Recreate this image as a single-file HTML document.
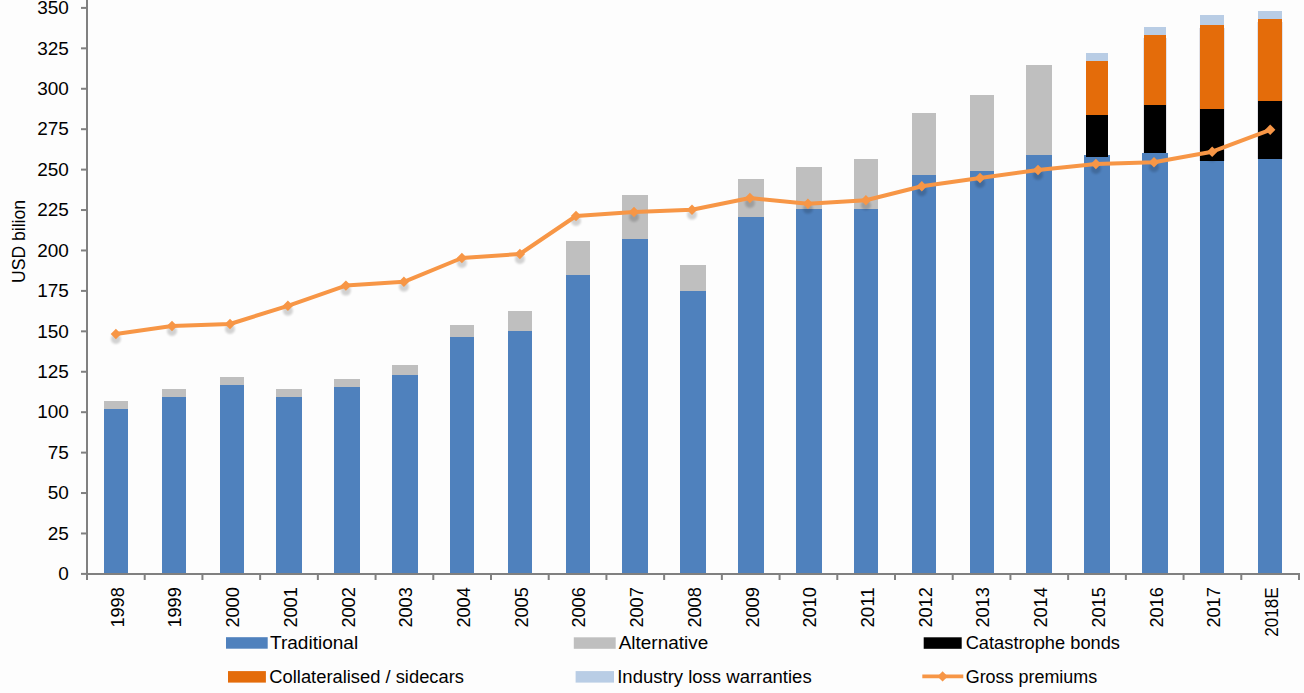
<!DOCTYPE html>
<html><head><meta charset="utf-8"><style>
html,body{margin:0;padding:0;background:#fdfdfd;width:1304px;height:693px;overflow:hidden}
svg{display:block;font-family:"Liberation Sans", sans-serif;fill:#000}
text{fill:#000}
</style></head><body>
<svg width="1304" height="693" viewBox="0 0 1304 693">
<defs><filter id="sh" x="-100%" y="-100%" width="300%" height="300%"><feGaussianBlur stdDeviation="1.2"/></filter></defs>
<rect x="104" y="401" width="24" height="8" fill="#bfbfbf"/>
<rect x="104" y="409" width="24" height="165" fill="#4f81bd"/>
<rect x="162" y="389" width="24" height="8" fill="#bfbfbf"/>
<rect x="162" y="397" width="24" height="177" fill="#4f81bd"/>
<rect x="220" y="377" width="24" height="8" fill="#bfbfbf"/>
<rect x="220" y="385" width="24" height="189" fill="#4f81bd"/>
<rect x="276" y="389" width="26" height="8" fill="#bfbfbf"/>
<rect x="276" y="397" width="26" height="177" fill="#4f81bd"/>
<rect x="334" y="379" width="26" height="8" fill="#bfbfbf"/>
<rect x="334" y="387" width="26" height="187" fill="#4f81bd"/>
<rect x="392" y="365" width="26" height="10" fill="#bfbfbf"/>
<rect x="392" y="375" width="26" height="199" fill="#4f81bd"/>
<rect x="450" y="325" width="24" height="12" fill="#bfbfbf"/>
<rect x="450" y="337" width="24" height="237" fill="#4f81bd"/>
<rect x="508" y="311" width="24" height="20" fill="#bfbfbf"/>
<rect x="508" y="331" width="24" height="243" fill="#4f81bd"/>
<rect x="566" y="241" width="24" height="34" fill="#bfbfbf"/>
<rect x="566" y="275" width="24" height="299" fill="#4f81bd"/>
<rect x="622" y="195" width="26" height="44" fill="#bfbfbf"/>
<rect x="622" y="239" width="26" height="335" fill="#4f81bd"/>
<rect x="680" y="265" width="26" height="26" fill="#bfbfbf"/>
<rect x="680" y="291" width="26" height="283" fill="#4f81bd"/>
<rect x="738" y="179" width="26" height="38" fill="#bfbfbf"/>
<rect x="738" y="217" width="26" height="357" fill="#4f81bd"/>
<rect x="796" y="167" width="26" height="42" fill="#bfbfbf"/>
<rect x="796" y="209" width="26" height="365" fill="#4f81bd"/>
<rect x="854" y="159" width="24" height="50" fill="#bfbfbf"/>
<rect x="854" y="209" width="24" height="365" fill="#4f81bd"/>
<rect x="912" y="113" width="24" height="62" fill="#bfbfbf"/>
<rect x="912" y="175" width="24" height="399" fill="#4f81bd"/>
<rect x="970" y="95" width="24" height="76" fill="#bfbfbf"/>
<rect x="970" y="171" width="24" height="403" fill="#4f81bd"/>
<rect x="1026" y="65" width="26" height="90" fill="#bfbfbf"/>
<rect x="1026" y="155" width="26" height="419" fill="#4f81bd"/>
<rect x="1084" y="155" width="26" height="419" fill="#4f81bd"/>
<rect x="1086" y="115" width="22" height="42" fill="#000"/>
<rect x="1086" y="61" width="22" height="54" fill="#e46c0a"/>
<rect x="1086" y="53" width="22" height="8" fill="#b9cde5"/>
<rect x="1142" y="153" width="26" height="421" fill="#4f81bd"/>
<rect x="1144" y="105" width="22" height="48" fill="#000"/>
<rect x="1144" y="35" width="22" height="70" fill="#e46c0a"/>
<rect x="1144" y="27" width="22" height="8" fill="#b9cde5"/>
<rect x="1143" y="38" width="1" height="115" fill="#e2e2e8"/>
<rect x="1166" y="38" width="1" height="115" fill="#e2e2e8"/>
<rect x="1200" y="161" width="24" height="413" fill="#4f81bd"/>
<rect x="1200" y="109" width="24" height="52" fill="#000"/>
<rect x="1200" y="25" width="24" height="84" fill="#e46c0a"/>
<rect x="1200" y="15" width="24" height="10" fill="#b9cde5"/>
<rect x="1199" y="28" width="1" height="133" fill="#e2e2e8"/>
<rect x="1224" y="28" width="1" height="133" fill="#e2e2e8"/>
<rect x="1258" y="159" width="24" height="415" fill="#4f81bd"/>
<rect x="1258" y="101" width="24" height="58" fill="#000"/>
<rect x="1258" y="19" width="24" height="82" fill="#e46c0a"/>
<rect x="1258" y="11" width="24" height="8" fill="#b9cde5"/>
<rect x="1257" y="22" width="1" height="137" fill="#e2e2e8"/>
<rect x="1282" y="22" width="1" height="137" fill="#e2e2e8"/>
<rect x="86" y="0" width="2" height="575" fill="#808080"/>
<rect x="86" y="573" width="1214" height="2" fill="#808080"/>
<rect x="81" y="572.90" width="6" height="2" fill="#808080"/>
<rect x="81" y="532.47" width="6" height="2" fill="#808080"/>
<rect x="81" y="492.04" width="6" height="2" fill="#808080"/>
<rect x="81" y="451.61" width="6" height="2" fill="#808080"/>
<rect x="81" y="411.19" width="6" height="2" fill="#808080"/>
<rect x="81" y="370.76" width="6" height="2" fill="#808080"/>
<rect x="81" y="330.33" width="6" height="2" fill="#808080"/>
<rect x="81" y="289.90" width="6" height="2" fill="#808080"/>
<rect x="81" y="249.47" width="6" height="2" fill="#808080"/>
<rect x="81" y="209.04" width="6" height="2" fill="#808080"/>
<rect x="81" y="168.61" width="6" height="2" fill="#808080"/>
<rect x="81" y="128.19" width="6" height="2" fill="#808080"/>
<rect x="81" y="87.76" width="6" height="2" fill="#808080"/>
<rect x="81" y="47.33" width="6" height="2" fill="#808080"/>
<rect x="81" y="6.90" width="6" height="2" fill="#808080"/>
<rect x="86.00" y="574" width="2" height="6" fill="#808080"/>
<rect x="143.71" y="574" width="2" height="6" fill="#808080"/>
<rect x="201.43" y="574" width="2" height="6" fill="#808080"/>
<rect x="259.14" y="574" width="2" height="6" fill="#808080"/>
<rect x="316.86" y="574" width="2" height="6" fill="#808080"/>
<rect x="374.57" y="574" width="2" height="6" fill="#808080"/>
<rect x="432.29" y="574" width="2" height="6" fill="#808080"/>
<rect x="490.00" y="574" width="2" height="6" fill="#808080"/>
<rect x="547.71" y="574" width="2" height="6" fill="#808080"/>
<rect x="605.43" y="574" width="2" height="6" fill="#808080"/>
<rect x="663.14" y="574" width="2" height="6" fill="#808080"/>
<rect x="720.86" y="574" width="2" height="6" fill="#808080"/>
<rect x="778.57" y="574" width="2" height="6" fill="#808080"/>
<rect x="836.29" y="574" width="2" height="6" fill="#808080"/>
<rect x="894.00" y="574" width="2" height="6" fill="#808080"/>
<rect x="951.71" y="574" width="2" height="6" fill="#808080"/>
<rect x="1009.43" y="574" width="2" height="6" fill="#808080"/>
<rect x="1067.14" y="574" width="2" height="6" fill="#808080"/>
<rect x="1124.86" y="574" width="2" height="6" fill="#808080"/>
<rect x="1182.57" y="574" width="2" height="6" fill="#808080"/>
<rect x="1240.29" y="574" width="2" height="6" fill="#808080"/>
<rect x="1298.00" y="574" width="2" height="6" fill="#808080"/>
<text transform="translate(68.8,580.20) scale(1.085,1)" font-size="17.5" text-anchor="end">0</text>
<text transform="translate(68.8,539.77) scale(1.085,1)" font-size="17.5" text-anchor="end">25</text>
<text transform="translate(68.8,499.34) scale(1.085,1)" font-size="17.5" text-anchor="end">50</text>
<text transform="translate(68.8,458.91) scale(1.085,1)" font-size="17.5" text-anchor="end">75</text>
<text transform="translate(68.8,418.49) scale(1.085,1)" font-size="17.5" text-anchor="end">100</text>
<text transform="translate(68.8,378.06) scale(1.085,1)" font-size="17.5" text-anchor="end">125</text>
<text transform="translate(68.8,337.63) scale(1.085,1)" font-size="17.5" text-anchor="end">150</text>
<text transform="translate(68.8,297.20) scale(1.085,1)" font-size="17.5" text-anchor="end">175</text>
<text transform="translate(68.8,256.77) scale(1.085,1)" font-size="17.5" text-anchor="end">200</text>
<text transform="translate(68.8,216.34) scale(1.085,1)" font-size="17.5" text-anchor="end">225</text>
<text transform="translate(68.8,175.91) scale(1.085,1)" font-size="17.5" text-anchor="end">250</text>
<text transform="translate(68.8,135.49) scale(1.085,1)" font-size="17.5" text-anchor="end">275</text>
<text transform="translate(68.8,95.06) scale(1.085,1)" font-size="17.5" text-anchor="end">300</text>
<text transform="translate(68.8,54.63) scale(1.085,1)" font-size="17.5" text-anchor="end">325</text>
<text transform="translate(68.8,14.20) scale(1.085,1)" font-size="17.5" text-anchor="end">350</text>
<text transform="translate(25,283) rotate(-90)" font-size="17.5" textLength="83" lengthAdjust="spacingAndGlyphs">USD bilion</text>
<text transform="translate(123.66,587.2) rotate(-90)" font-size="17.5" text-anchor="end" textLength="40.4" lengthAdjust="spacingAndGlyphs">1998</text>
<text transform="translate(181.37,587.2) rotate(-90)" font-size="17.5" text-anchor="end" textLength="40.4" lengthAdjust="spacingAndGlyphs">1999</text>
<text transform="translate(239.09,587.2) rotate(-90)" font-size="17.5" text-anchor="end" textLength="40.4" lengthAdjust="spacingAndGlyphs">2000</text>
<text transform="translate(296.80,587.2) rotate(-90)" font-size="17.5" text-anchor="end" textLength="40.4" lengthAdjust="spacingAndGlyphs">2001</text>
<text transform="translate(354.51,587.2) rotate(-90)" font-size="17.5" text-anchor="end" textLength="40.4" lengthAdjust="spacingAndGlyphs">2002</text>
<text transform="translate(412.23,587.2) rotate(-90)" font-size="17.5" text-anchor="end" textLength="40.4" lengthAdjust="spacingAndGlyphs">2003</text>
<text transform="translate(469.94,587.2) rotate(-90)" font-size="17.5" text-anchor="end" textLength="40.4" lengthAdjust="spacingAndGlyphs">2004</text>
<text transform="translate(527.65,587.2) rotate(-90)" font-size="17.5" text-anchor="end" textLength="40.4" lengthAdjust="spacingAndGlyphs">2005</text>
<text transform="translate(585.37,587.2) rotate(-90)" font-size="17.5" text-anchor="end" textLength="40.4" lengthAdjust="spacingAndGlyphs">2006</text>
<text transform="translate(643.08,587.2) rotate(-90)" font-size="17.5" text-anchor="end" textLength="40.4" lengthAdjust="spacingAndGlyphs">2007</text>
<text transform="translate(700.80,587.2) rotate(-90)" font-size="17.5" text-anchor="end" textLength="40.4" lengthAdjust="spacingAndGlyphs">2008</text>
<text transform="translate(758.51,587.2) rotate(-90)" font-size="17.5" text-anchor="end" textLength="40.4" lengthAdjust="spacingAndGlyphs">2009</text>
<text transform="translate(816.22,587.2) rotate(-90)" font-size="17.5" text-anchor="end" textLength="40.4" lengthAdjust="spacingAndGlyphs">2010</text>
<text transform="translate(873.94,587.2) rotate(-90)" font-size="17.5" text-anchor="end" textLength="40.4" lengthAdjust="spacingAndGlyphs">2011</text>
<text transform="translate(931.65,587.2) rotate(-90)" font-size="17.5" text-anchor="end" textLength="40.4" lengthAdjust="spacingAndGlyphs">2012</text>
<text transform="translate(989.37,587.2) rotate(-90)" font-size="17.5" text-anchor="end" textLength="40.4" lengthAdjust="spacingAndGlyphs">2013</text>
<text transform="translate(1047.08,587.2) rotate(-90)" font-size="17.5" text-anchor="end" textLength="40.4" lengthAdjust="spacingAndGlyphs">2014</text>
<text transform="translate(1104.79,587.2) rotate(-90)" font-size="17.5" text-anchor="end" textLength="40.4" lengthAdjust="spacingAndGlyphs">2015</text>
<text transform="translate(1162.51,587.2) rotate(-90)" font-size="17.5" text-anchor="end" textLength="40.4" lengthAdjust="spacingAndGlyphs">2016</text>
<text transform="translate(1220.22,587.2) rotate(-90)" font-size="17.5" text-anchor="end" textLength="40.4" lengthAdjust="spacingAndGlyphs">2017</text>
<text transform="translate(1277.94,587.2) rotate(-90)" font-size="17.5" text-anchor="end" textLength="49.6" lengthAdjust="spacingAndGlyphs">2018E</text>
<circle cx="115.90" cy="339.00" r="5" fill="#000" opacity="0.17" filter="url(#sh)"/>
<circle cx="172.00" cy="331.00" r="5" fill="#000" opacity="0.17" filter="url(#sh)"/>
<circle cx="230.00" cy="329.00" r="5" fill="#000" opacity="0.17" filter="url(#sh)"/>
<circle cx="287.90" cy="310.80" r="5" fill="#000" opacity="0.17" filter="url(#sh)"/>
<circle cx="345.90" cy="290.60" r="5" fill="#000" opacity="0.17" filter="url(#sh)"/>
<circle cx="403.90" cy="286.80" r="5" fill="#000" opacity="0.17" filter="url(#sh)"/>
<circle cx="461.90" cy="263.00" r="5" fill="#000" opacity="0.17" filter="url(#sh)"/>
<circle cx="519.90" cy="259.00" r="5" fill="#000" opacity="0.17" filter="url(#sh)"/>
<circle cx="576.00" cy="221.00" r="5" fill="#000" opacity="0.17" filter="url(#sh)"/>
<circle cx="634.00" cy="217.00" r="5" fill="#000" opacity="0.17" filter="url(#sh)"/>
<circle cx="692.00" cy="214.80" r="5" fill="#000" opacity="0.17" filter="url(#sh)"/>
<circle cx="749.90" cy="203.00" r="5" fill="#000" opacity="0.17" filter="url(#sh)"/>
<circle cx="807.90" cy="208.70" r="5" fill="#000" opacity="0.17" filter="url(#sh)"/>
<circle cx="865.90" cy="205.20" r="5" fill="#000" opacity="0.17" filter="url(#sh)"/>
<circle cx="921.80" cy="191.20" r="5" fill="#000" opacity="0.17" filter="url(#sh)"/>
<circle cx="980.00" cy="183.00" r="5" fill="#000" opacity="0.17" filter="url(#sh)"/>
<circle cx="1038.00" cy="175.00" r="5" fill="#000" opacity="0.17" filter="url(#sh)"/>
<circle cx="1095.90" cy="169.00" r="5" fill="#000" opacity="0.17" filter="url(#sh)"/>
<circle cx="1154.00" cy="167.20" r="5" fill="#000" opacity="0.17" filter="url(#sh)"/>
<circle cx="1212.20" cy="156.70" r="5" fill="#000" opacity="0.17" filter="url(#sh)"/>
<circle cx="1270.20" cy="134.80" r="5" fill="#000" opacity="0.17" filter="url(#sh)"/>
<polyline points="115.9,334 172,326 230,324 287.9,305.8 345.9,285.6 403.9,281.8 461.9,258 519.9,254 576,216 634,212 692,209.8 749.9,198 807.9,203.7 865.9,200.2 921.8,186.2 980,178 1038,170 1095.9,164 1154,162.2 1212.2,151.7 1270.2,129.8" fill="none" stroke="#f79646" stroke-width="4" stroke-linejoin="round"/>
<path d="M115.9,328.8 L121.10000000000001,334 L115.9,339.2 L110.7,334 Z" fill="#f79646"/>
<path d="M172,320.8 L177.2,326 L172,331.2 L166.8,326 Z" fill="#f79646"/>
<path d="M230,318.8 L235.2,324 L230,329.2 L224.8,324 Z" fill="#f79646"/>
<path d="M287.9,300.6 L293.09999999999997,305.8 L287.9,311.0 L282.7,305.8 Z" fill="#f79646"/>
<path d="M345.9,280.40000000000003 L351.09999999999997,285.6 L345.9,290.8 L340.7,285.6 Z" fill="#f79646"/>
<path d="M403.9,276.6 L409.09999999999997,281.8 L403.9,287.0 L398.7,281.8 Z" fill="#f79646"/>
<path d="M461.9,252.8 L467.09999999999997,258 L461.9,263.2 L456.7,258 Z" fill="#f79646"/>
<path d="M519.9,248.8 L525.1,254 L519.9,259.2 L514.6999999999999,254 Z" fill="#f79646"/>
<path d="M576,210.8 L581.2,216 L576,221.2 L570.8,216 Z" fill="#f79646"/>
<path d="M634,206.8 L639.2,212 L634,217.2 L628.8,212 Z" fill="#f79646"/>
<path d="M692,204.60000000000002 L697.2,209.8 L692,215.0 L686.8,209.8 Z" fill="#f79646"/>
<path d="M749.9,192.8 L755.1,198 L749.9,203.2 L744.6999999999999,198 Z" fill="#f79646"/>
<path d="M807.9,198.5 L813.1,203.7 L807.9,208.89999999999998 L802.6999999999999,203.7 Z" fill="#f79646"/>
<path d="M865.9,195.0 L871.1,200.2 L865.9,205.39999999999998 L860.6999999999999,200.2 Z" fill="#f79646"/>
<path d="M921.8,181.0 L927.0,186.2 L921.8,191.39999999999998 L916.5999999999999,186.2 Z" fill="#f79646"/>
<path d="M980,172.8 L985.2,178 L980,183.2 L974.8,178 Z" fill="#f79646"/>
<path d="M1038,164.8 L1043.2,170 L1038,175.2 L1032.8,170 Z" fill="#f79646"/>
<path d="M1095.9,158.8 L1101.1000000000001,164 L1095.9,169.2 L1090.7,164 Z" fill="#f79646"/>
<path d="M1154,157.0 L1159.2,162.2 L1154,167.39999999999998 L1148.8,162.2 Z" fill="#f79646"/>
<path d="M1212.2,146.5 L1217.4,151.7 L1212.2,156.89999999999998 L1207.0,151.7 Z" fill="#f79646"/>
<path d="M1270.2,124.60000000000001 L1275.4,129.8 L1270.2,135.0 L1265.0,129.8 Z" fill="#f79646"/>
<rect x="226" y="637.2" width="41.7" height="11.5" fill="#4f81bd"/>
<text x="270" y="648.8" font-size="17.5" textLength="88.2" lengthAdjust="spacingAndGlyphs">Traditional</text>
<rect x="573.8" y="637.3" width="41.9" height="11.5" fill="#bfbfbf"/>
<text x="618.7" y="648.8" font-size="17.5" textLength="89.5" lengthAdjust="spacingAndGlyphs">Alternative</text>
<rect x="923.7" y="637.3" width="38" height="11.5" fill="#000"/>
<text x="965.7" y="648.8" font-size="17.5" textLength="154.3" lengthAdjust="spacingAndGlyphs">Catastrophe bonds</text>
<rect x="228" y="671.1" width="37.9" height="11.5" fill="#e46c0a"/>
<text x="269.3" y="682.6" font-size="17.5" textLength="194.7" lengthAdjust="spacingAndGlyphs">Collateralised / sidecars</text>
<rect x="575.6" y="671.1" width="38.4" height="11.5" fill="#b9cde5"/>
<text x="617.2" y="682.6" font-size="17.5" textLength="194.5" lengthAdjust="spacingAndGlyphs">Industry loss warranties</text>
<line x1="922.3" y1="676.4" x2="963.3" y2="676.4" stroke="#f79646" stroke-width="3.75"/>
<path d="M942.6,671.1999999999999 L947.8000000000001,676.4 L942.6,681.6 L937.4,676.4 Z" fill="#f79646"/>
<text x="965.7" y="682.6" font-size="17.5" textLength="131.5" lengthAdjust="spacingAndGlyphs">Gross premiums</text>
</svg>
</body></html>
